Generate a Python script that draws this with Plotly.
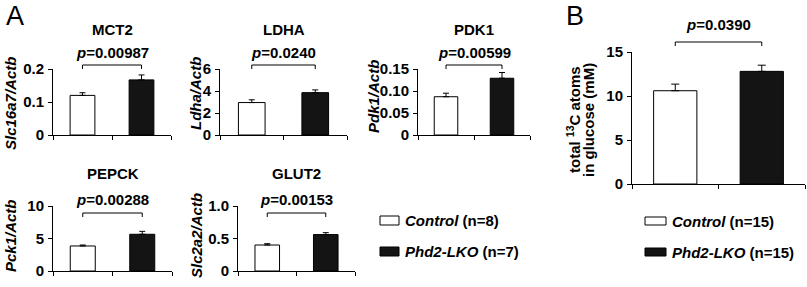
import plotly.graph_objects as go

# ---------------- data ----------------
groups = ["Control", "Phd2-LKO"]
genes = ["MCT2", "LDHA", "PDK1", "PEPCK", "GLUT2"]
ylabels = ["Slc16a7/Actb", "Ldha/Actb", "Pdk1/Actb", "Pck1/Actb", "Slc2a2/Actb"]
mct2_mean = [0.120, 0.167]
mct2_err = [0.008, 0.015]
ldha_mean = [2.95, 3.85]
ldha_err = [0.25, 0.25]
pdk1_mean = [0.087, 0.129]
pdk1_err = [0.008, 0.013]
pepck_mean = [3.85, 5.65]
pepck_err = [0.15, 0.45]
glut2_mean = [0.40, 0.56]
glut2_err = [0.02, 0.03]
pvals_a = ["0.00987", "0.0240", "0.00599", "0.00288", "0.00153"]
ticks = [
    ([0, 0.1, 0.2], ["0", "0.1", "0.2"]),
    ([0, 2, 4, 6], ["0", "2", "4", "6"]),
    ([0, 0.05, 0.10, 0.15], ["0", "0.05", "0.10", "0.15"]),
    ([0, 5, 10], ["0", "5", "10"]),
    ([0, 0.5, 1.0], ["0", "0.5", "1.0"]),
]
glc_mean = [10.6, 12.8]
glc_err = [0.75, 0.70]
glc_p = "0.0390"
glc_ticks = [0, 5, 10, 15]
glc_title = ["total <sup>13</sup>C atoms", "in glucose (mM)"]
n_a = [8, 7]
n_b = [15, 15]

means = [mct2_mean, ldha_mean, pdk1_mean, pepck_mean, glut2_mean]
errs = [mct2_err, ldha_err, pdk1_err, pepck_err, glut2_err]

W, H = 807, 287
FONT = "Liberation Sans, Arial, sans-serif"
FS = 15
fills = ["white", "#141414"]

def px_x(p):
    return p / W

def px_y(p):
    return 1 - p / H

def bold(size=FS):
    return dict(family=FONT, size=size, color="black", weight="bold")

# layout geometry (pixels)
xdom = [(53, 171), (220, 347), (418, 530), (53, 172), (238, 355)]
ydom = [(135, 69), (135, 69), (135, 69), (271, 206), (271, 206)]
ylab_pos = [(10, 104), (196, 94), (373, 97), (10, 236), (196, 236)]
title_y = [29, 29, 29, 173, 173]
p_y = [52, 52, 52, 199, 199]
br_y = [65, 65, 65, 213, 213]

fig = go.Figure()
layout = dict(width=W, height=H, margin=dict(l=0, r=0, t=0, b=0, pad=0, autoexpand=False),
              plot_bgcolor="white", paper_bgcolor="white", showlegend=False,
              font=dict(family=FONT, size=FS, color="black"),
              bargap=0)
annotations = []
shapes = []

def add_panel(i, yvals, evals, tv, tt, xd, yd, width, errw, pstr, bry, py, title=None, ty=None):
    k = "" if i == 1 else str(i)
    fig.add_trace(go.Bar(
        x=[0, 1], y=yvals, width=width, xaxis="x" + k, yaxis="y" + k,
        marker=dict(color=fills, line=dict(color="black", width=1)),
        error_y=dict(type="data", array=evals, arrayminus=[0, 0], symmetric=False,
                     color="black", thickness=1, width=errw),
        hoverinfo="skip",
    ))
    layout["xaxis" + k] = dict(domain=[px_x(xd[0]), px_x(xd[1])], anchor="y" + k,
                               range=[-0.5, 1.5], tickvals=[-0.5, 0.5, 1.5],
                               showticklabels=False, automargin=False,
                               ticks="outside", ticklen=4, tickcolor="black", showline=True,
                               linecolor="black", linewidth=1, showgrid=False, zeroline=False,
                               fixedrange=True)
    layout["yaxis" + k] = dict(domain=[px_y(yd[0]), px_y(yd[1])], anchor="x" + k,
                               range=[0, tv[-1]], tickvals=tv, ticktext=tt, automargin=False,
                               ticks="outside", ticklen=4, tickcolor="black", showline=True,
                               linecolor="black", linewidth=1, showgrid=False, zeroline=False,
                               tickfont=bold(), ticklabelstandoff=1, fixedrange=True)
    xr = "x" + k
    # bracket
    shapes.append(dict(type="path", xref=xr, yref="paper", fillcolor="rgba(0,0,0,0)",
                       opacity=1,
                       path=f"M 0,{px_y(bry+4)} L 0,{px_y(bry)} L 1,{px_y(bry)} L 1,{px_y(bry+4)}",
                       line=dict(color="black", width=1)))
    annotations.append(dict(x=0.5, y=px_y(py), xref=xr, yref="paper", showarrow=False,
                            text=f"<i>p</i>={pstr}", xanchor="center", yanchor="middle",
                            font=bold()))
    if title:
        annotations.append(dict(x=0.5, y=px_y(ty), xref=xr, yref="paper", showarrow=False,
                                text=title, xanchor="center", yanchor="middle",
                                font=bold()))

for j in range(5):
    add_panel(j + 1, means[j], errs[j], ticks[j][0], ticks[j][1], xdom[j], ydom[j],
              0.42, 3, pvals_a[j], br_y[j], p_y[j], genes[j], title_y[j])
    lx, ly = ylab_pos[j]
    annotations.append(dict(x=px_x(lx), y=px_y(ly), xref="paper", yref="paper", showarrow=False,
                            text=f"<i>{ylabels[j]}</i>", textangle=-90, xanchor="center",
                            yanchor="middle", font=bold()))

# panel B
add_panel(6, glc_mean, glc_err, glc_ticks, [str(t) for t in glc_ticks], (632, 805), (184, 52),
          0.5, 4, glc_p, 42, 25)
for line_txt, lx in zip(glc_title, (573, 588)):
    annotations.append(dict(x=px_x(lx), y=px_y(120), xref="paper", yref="paper", showarrow=False,
                            text=line_txt, textangle=-90,
                            xanchor="center", yanchor="middle", align="center",
                            font=bold()))

# panel letters
annotations.append(dict(x=px_x(15), y=px_y(16), xref="paper", yref="paper", showarrow=False,
                        text="A", xanchor="center", yanchor="middle",
                        font=dict(family=FONT, size=27, color="black")))
annotations.append(dict(x=px_x(575), y=px_y(16), xref="paper", yref="paper", showarrow=False,
                        text="B", xanchor="center", yanchor="middle",
                        font=dict(family=FONT, size=27, color="black")))

# legends
def add_legend(x0, x1, ns, ys):
    for g, n, (ya, yb), col in zip(groups, ns, ys, fills):
        shapes.append(dict(type="rect", xref="paper", yref="paper", opacity=1,
                           x0=px_x(x0), x1=px_x(x1), y0=px_y(yb), y1=px_y(ya),
                           fillcolor=col, line=dict(color="black", width=1)))
        annotations.append(dict(x=px_x(x1 + 4), y=px_y((ya + yb) / 2), xref="paper", yref="paper",
                                showarrow=False, text=f"<i>{g}</i> (n={n})", xanchor="left",
                                yanchor="middle", font=bold(15)))

add_legend(380, 399, n_a, [(216, 225), (247, 256)])
add_legend(645, 666, n_b, [(217, 225), (248, 256)])

layout["annotations"] = annotations
layout["shapes"] = shapes
fig.update_layout(**layout)
fig.write_html("out.html", config={"displayModeBar": False, "staticPlot": True},
               post_script="document.body.style.margin='0px';")
